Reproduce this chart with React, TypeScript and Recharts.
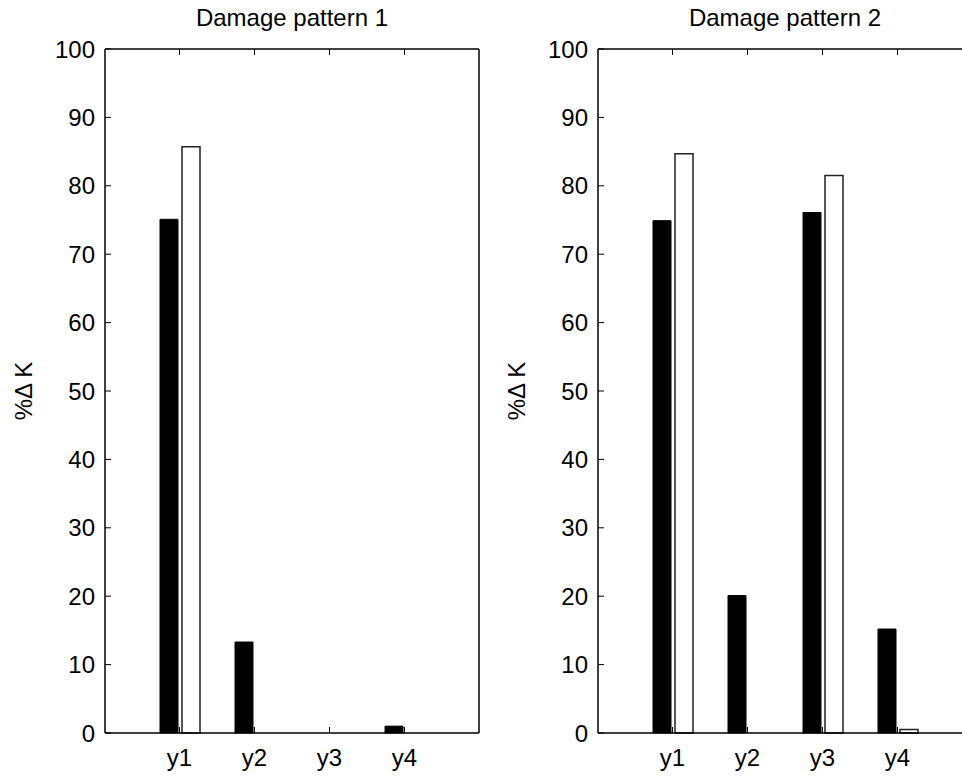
import React from "react";
import { BarChart, Bar, XAxis, YAxis, Label } from "recharts";

// Two side-by-side grouped bar panels, MATLAB-style boxed axes with inward ticks.

const categories = ["y1", "y2", "y3", "y4"];
const pattern1Solid = [75.1, 13.3, 0, 1.0];
const pattern1Open = [85.7, 0, 0, 0];
const pattern2Solid = [74.9, 20.1, 76.1, 15.2];
const pattern2Open = [84.7, 0, 81.5, 0.5];
const yTicks = [0, 10, 20, 30, 40, 50, 60, 70, 80, 90, 100];
const titles = ["Damage pattern 1", "Damage pattern 2"];
const yLabel = "%Δ K";

const FONT = "'Liberation Sans', Arial, Helvetica, sans-serif";
const INK = "#000";
const TICK_FONT = 24;

const PANEL_W = 500;
const PANEL_H = 776;

const YTitle = (props: any) => {
  const vb = props.viewBox || {};
  const cx = vb.x - 22;
  const cy = vb.y + vb.height / 2;
  return (
    <text
      x={cx}
      y={cy}
      transform={`rotate(-90 ${cx} ${cy})`}
      textAnchor="middle"
      dominantBaseline="central"
      fontSize={TICK_FONT}
      fill={INK}
    >
      {yLabel}
    </text>
  );
};

interface PanelProps {
  title: string;
  solid: number[];
  open: number[];
  left: number;
}

const Panel: React.FC<PanelProps> = ({ title, solid, open, left }) => {
  const rows = categories.map((cat, i) => ({ cat, solid: solid[i], open: open[i] }));
  const axisLine = { stroke: INK, strokeWidth: 1.5 };
  const tickLine = { stroke: INK, strokeWidth: 1 };

  return (
    <div style={{ position: "absolute", left, top: 0 }}>
      <BarChart
        width={PANEL_W}
        height={PANEL_H}
        data={rows}
        margin={{ top: 48, right: 20, bottom: 3, left: 45 }}
        barSize={18}
        barGap={4}
      >
        <XAxis
          dataKey="cat"
          height={40}
          interval={0}
          padding={{ left: 37, right: 37 }}
          axisLine={axisLine}
          tickLine={tickLine}
          tickSize={-6}
          tickMargin={22}
          tick={{ fill: INK, fontSize: TICK_FONT }}
        />
        <XAxis
          xAxisId="top"
          dataKey="cat"
          orientation="top"
          height={1}
          interval={0}
          padding={{ left: 37, right: 37 }}
          axisLine={axisLine}
          tickLine={tickLine}
          tickSize={-6}
          tickFormatter={() => ""}
        >
          <Label value={title} position="top" offset={22} fontSize={24} fill={INK} />
        </XAxis>
        <YAxis
          domain={[0, 100]}
          ticks={yTicks}
          width={60}
          axisLine={axisLine}
          tickLine={tickLine}
          tickSize={-6}
          tickMargin={16}
          tick={{ fill: INK, fontSize: TICK_FONT }}
          label={<YTitle />}
        />
        <YAxis
          yAxisId="right"
          orientation="right"
          domain={[0, 100]}
          ticks={yTicks}
          width={1}
          axisLine={axisLine}
          tickLine={tickLine}
          tickSize={-6}
          tickFormatter={() => ""}
        />
        <Bar dataKey="solid" fill="#000" stroke="#000" strokeWidth={1} isAnimationActive={false} />
        <Bar dataKey="open" fill="#fff" stroke="#222" strokeWidth={1.5} isAnimationActive={false} />
      </BarChart>
    </div>
  );
};

export default function App() {
  return (
    <div
      style={{
        position: "absolute",
        left: 0,
        top: 0,
        width: 962,
        height: 776,
        overflow: "hidden",
        background: "#fff",
        fontFamily: FONT,
      }}
    >
      <Panel title={titles[0]} solid={pattern1Solid} open={pattern1Open} left={0} />
      <Panel title={titles[1]} solid={pattern2Solid} open={pattern2Open} left={493} />
    </div>
  );
}
